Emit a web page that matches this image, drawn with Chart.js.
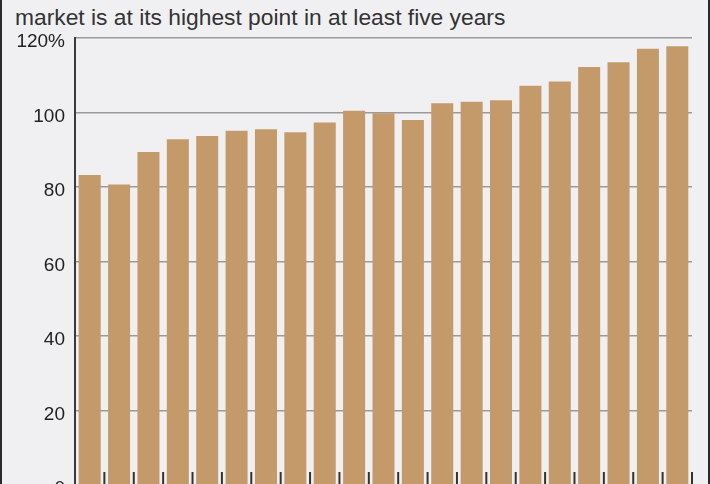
<!DOCTYPE html>
<html>
<head>
<meta charset="utf-8">
<script src="https://cdn.jsdelivr.net/npm/chart.js@4"></script>
<style>
  html, body { margin: 0; padding: 0; background: #f0f0f2; }
  #wrap {
    position: relative; width: 710px; height: 484px; overflow: hidden;
    background: #f0f0f2; box-sizing: border-box;
    border-left: 2px solid #2a2a2a; border-right: 2px solid #2a2a2a;
  }
  #subtitle {
    position: absolute; left: 13px; top: 6px; margin: 0;
    font: 22.8px/22.8px 'Liberation Sans', Arial, sans-serif; color: #333;
    white-space: nowrap;
  }
  #chart { position: absolute; left: -2px; top: 0; }
</style>
</head>
<body>
<div id="wrap">
  <p id="subtitle">market is at its highest point in at least five years</p>
  <canvas id="chart" width="710" height="515"></canvas>
</div>
<script>
// quarters, hidden below the cut-off bottom edge
const quarters = ['Q1 2008','Q2 2008','Q3 2008','Q4 2008','Q1 2009','Q2 2009','Q3 2009','Q4 2009',
  'Q1 2010','Q2 2010','Q3 2010','Q4 2010','Q1 2011','Q2 2011','Q3 2011','Q4 2011',
  'Q1 2012','Q2 2012','Q3 2012','Q4 2012','Q1 2013'];
const values = [83.2, 80.7, 89.4, 92.8, 93.7, 95.1, 95.5, 94.7, 97.3, 100.5, 99.8,
  98.0, 102.5, 102.9, 103.3, 107.2, 108.3, 112.2, 113.5, 117.1, 117.8];
const yTicks = [0, 20, 40, 60, 80, 100, 120];

const barColor = '#c49a6a';

// small vertical ticks between bars, rising from the zero line
const innerTicks = {
  id: 'innerTicks',
  afterDatasetsDraw(chart) {
    const x = chart.scales.x, y = chart.scales.y;
    const ctx = chart.ctx;
    const y0 = y.getPixelForValue(0);
    const step = x.getPixelForValue(1) - x.getPixelForValue(0);
    ctx.save();
    ctx.strokeStyle = '#333';
    ctx.lineWidth = 2;
    for (let i = 1; i <= quarters.length; i++) {
      const px = x.getPixelForValue(i) - step / 2;
      ctx.beginPath();
      ctx.moveTo(px, y0);
      ctx.lineTo(px, y0 - 13);
      ctx.stroke();
    }
    ctx.restore();
  }
};

new Chart(document.getElementById('chart'), {
  type: 'bar',
  data: {
    labels: quarters,
    datasets: [{
      data: values,
      backgroundColor: barColor,
      borderWidth: 0,
      categoryPercentage: 1,
      barPercentage: 0.75
    }]
  },
  options: {
    responsive: false,
    animation: false,
    layout: { padding: { top: 38, right: 18, left: 0, bottom: 0 } },
    plugins: { legend: { display: false }, tooltip: { enabled: false }, title: { display: false } },
    scales: {
      x: {
        grid: { display: false },
        border: { display: false },
        ticks: { display: false },
        afterFit(scale) { scale.height = 30; }
      },
      y: {
        min: 0,
        max: 120,
        afterBuildTicks(scale) { scale.ticks = yTicks.map(v => ({ value: v })); },
        afterFit(scale) { scale.width = 75; },
        grid: { color: '#9a9a9c', lineWidth: 1.5, drawTicks: false },
        border: { display: true, color: '#3a3a3a', width: 2 },
        ticks: {
          padding: 10,
          labelOffset: 4,
          color: '#222',
          font: { family: "'Liberation Sans', Arial, sans-serif", size: 19 },
          callback: v => v === 120 ? '120%' : v
        }
      }
    }
  },
  plugins: [innerTicks]
});
</script>
</body>
</html>
